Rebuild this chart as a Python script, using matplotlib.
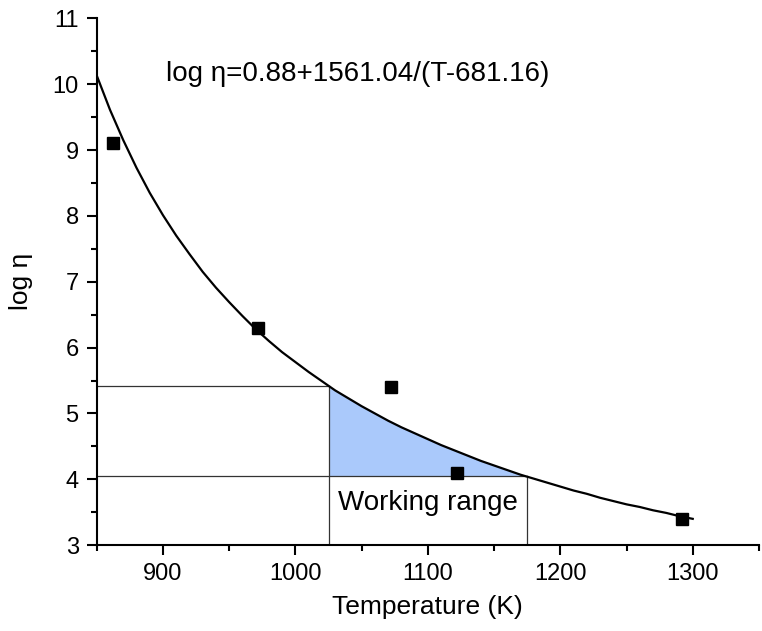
import matplotlib.pyplot as plt
from matplotlib.ticker import MultipleLocator

plt.rcParams['font.family'] = ['Liberation Sans', 'DejaVu Sans']

# fitted curve
CurveT = [850, 860, 870, 880, 890, 900, 910, 920, 930, 940, 950, 960, 970, 980,
          990, 1000, 1010, 1020, 1025, 1030, 1040, 1050, 1060, 1070, 1080, 1090,
          1100, 1110, 1120, 1130, 1140, 1150, 1160, 1170, 1175, 1180, 1190, 1200,
          1210, 1220, 1230, 1240, 1250, 1260, 1270, 1280, 1290, 1300]
CurveLog = [10.13, 9.61, 9.15, 8.73, 8.35, 8.01, 7.70, 7.42, 7.15, 6.91, 6.69,
            6.48, 6.28, 6.10, 5.93, 5.78, 5.63, 5.49, 5.42, 5.35, 5.23, 5.11,
            5.00, 4.89, 4.79, 4.70, 4.61, 4.52, 4.44, 4.36, 4.28, 4.21, 4.14,
            4.07, 4.04, 4.01, 3.95, 3.89, 3.83, 3.78, 3.72, 3.67, 3.62, 3.58,
            3.53, 3.49, 3.44, 3.40]

# measured points
PointT = [862, 972, 1072, 1122, 1292]
PointLog = [9.1, 6.3, 5.4, 4.1, 3.4]

# working range bounds
RangeT = [1025, 1175]
RangeLog = [5.42, 4.05]

fig = plt.figure(figsize=(7.62, 6.31), dpi=100)
ax = fig.add_axes([0.127, 0.136, 0.869, 0.835])

# shaded working range under the curve
FillT = [t for t in CurveT if RangeT[0] <= t <= RangeT[1]]
FillLog = [CurveLog[CurveT.index(t)] for t in FillT]
ax.fill_between(FillT, [RangeLog[1]] * len(FillT), FillLog, color="#aac9fb", lw=0)

# guide lines
ax.plot([850, RangeT[0]], [RangeLog[0], RangeLog[0]], c="#333333", lw=0.9)
ax.plot([850, RangeT[1]], [RangeLog[1], RangeLog[1]], c="#333333", lw=0.9)
ax.plot([RangeT[0], RangeT[0]], [3, RangeLog[0]], c="#333333", lw=0.9)
ax.plot([RangeT[1], RangeT[1]], [3, RangeLog[1]], c="#333333", lw=0.9)

ax.plot(CurveT, CurveLog, c="black", lw=1.6)
ax.plot(PointT, PointLog, ls="none", marker="s", markersize=8.5, c="black")

ax.text(902, 10.15, "log η=0.88+1561.04/(T-681.16)", fontsize=20, va="center")
ax.text(1100, 3.64, "Working range", fontsize=20, va="center", ha="center")

ax.set_xlim(850, 1350)
ax.set_ylim(3, 11)
ax.xaxis.set_major_locator(MultipleLocator(100))
ax.xaxis.set_minor_locator(MultipleLocator(50))
ax.yaxis.set_major_locator(MultipleLocator(1))
ax.yaxis.set_minor_locator(MultipleLocator(0.5))
ax.set_xticks([900, 1000, 1100, 1200, 1300])
ax.tick_params(which="major", direction="out", length=7, width=1.5, labelsize=17, pad=6)
ax.tick_params(which="minor", direction="out", length=4, width=1.5)
ax.spines["top"].set_visible(False)
ax.spines["right"].set_visible(False)
ax.spines["left"].set_linewidth(1.5)
ax.spines["bottom"].set_linewidth(1.5)

ax.set_xlabel("Temperature (K)", fontsize=19, labelpad=7)
ax.set_ylabel("log η", fontsize=19, labelpad=14)

fig.savefig("out.png", dpi=100)
